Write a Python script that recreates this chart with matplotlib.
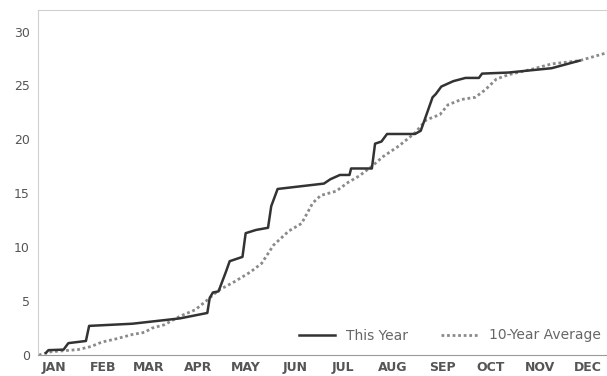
import matplotlib
matplotlib.use("Agg")
import matplotlib.pyplot as plt

# day of year / cumulative value
this_year_day = [5, 6.5, 16, 19, 30, 32, 59, 71, 89, 106, 107.5, 109.5, 113, 117.6, 120,
                 128, 130, 136.5, 144, 146, 150, 179, 183, 189, 195, 196, 209, 211, 215,
                 218.5, 236, 239.6, 242, 247, 249, 252.5, 260, 267.6, 276, 278, 294.6,
                 321.5, 339]
this_year_val = [0.2, 0.45, 0.5, 1.1, 1.3, 2.7, 2.9, 3.1, 3.4, 3.9, 5.3, 5.8, 5.9, 7.7, 8.7,
                 9.1, 11.3, 11.6, 11.8, 13.8, 15.4, 15.9, 16.3, 16.7, 16.7, 17.3, 17.3, 19.6,
                 19.8, 20.5, 20.5, 20.8, 21.8, 23.9, 24.2, 24.9, 25.4, 25.7, 25.7, 26.1, 26.2,
                 26.6, 27.3]

avg_day = [0.5, 8, 25, 33.5, 40, 49, 59, 66.6, 71.5, 79, 89, 98.5, 106, 113, 123, 133, 140,
           147.5, 157, 165, 172, 177, 186.7, 194, 201, 209, 216, 226, 236, 243, 251.6, 256.6,
           265, 273.7, 280, 287, 294.6, 309, 321.5, 339, 360]
avg_val = [0, 0.3, 0.5, 0.8, 1.2, 1.5, 1.9, 2.1, 2.5, 2.8, 3.6, 4.2, 5.1, 6.0, 6.8, 7.7, 8.5,
           10.2, 11.5, 12.2, 14.1, 14.8, 15.2, 16.0, 16.6, 17.5, 18.4, 19.4, 20.6, 21.8, 22.3,
           23.2, 23.7, 23.9, 24.6, 25.6, 26.0, 26.5, 27.0, 27.3, 28.2]

months = ["JAN", "FEB", "MAR", "APR", "MAY", "JUN", "JUL", "AUG", "SEP", "OCT", "NOV", "DEC"]
month_start = [0, 31, 59, 90, 120, 151, 181, 212, 243, 273, 304, 334]

fig = plt.figure(figsize=(6.07, 3.76), dpi=100)
ax = fig.add_axes([38/607, 21/376, 1 - 38/607 + 0.01, 345/376])

ax.plot(avg_day, avg_val, color="#8a8a8a", lw=2, ls=(0, (1, 1)), label="10-Year Average")
ax.plot(this_year_day, this_year_val, color="#333333", lw=1.8, label="This Year")

ax.set_xlim(0, 360)
ax.set_ylim(0, 32)
ax.set_yticks(range(0, 31, 5))
ax.set_xticks([m + 10 for m in month_start])
ax.set_xticklabels(months, fontweight="bold")
ax.tick_params(length=0, colors="#555555", labelsize=9)
ax.tick_params(axis="x", pad=4)
ax.tick_params(axis="y", pad=6)

for s in ["top", "left", "right"]:
    ax.spines[s].set_color("#d0d0d0")
    ax.spines[s].set_linewidth(0.8)
ax.spines["bottom"].set_color("#999999")

h, l = ax.get_legend_handles_labels()
leg = ax.legend(h[::-1], l[::-1], loc="lower right", ncol=2, frameon=False,
                fontsize=10, handlelength=2.6, columnspacing=2.4,
                bbox_to_anchor=(1.0, 0.0))
for t in leg.get_texts():
    t.set_color("#666666")

fig.savefig("out.png", dpi=100)
